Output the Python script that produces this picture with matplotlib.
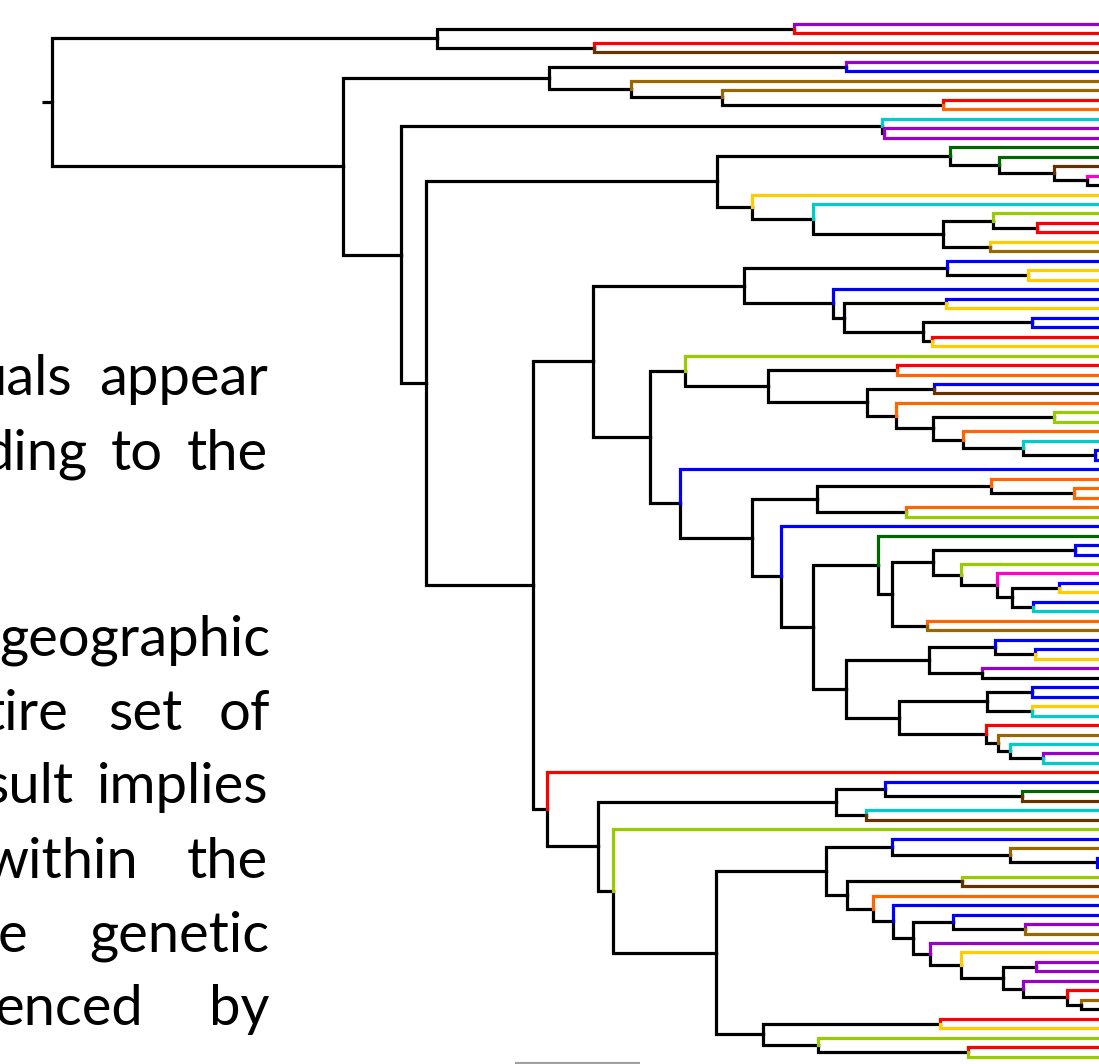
import matplotlib
matplotlib.use("Agg")
import matplotlib.pyplot as plt

# ---------------- data ----------------
COLORS = {"p": "#9900CC", "r": "#FF0000", "b": "#663300", "g": "#996600",
          "B": "#0000FF", "o": "#FF6600", "c": "#00CCCC", "G": "#006600",
          "m": "#FF00CC", "k": "#000000", "y": "#FFCC00", "l": "#99CC00"}

# colour of each leaf (top to bottom)
leaf_colors = ("p r r b p B g g r o c p p G G b m k y c "
               "l r r y g B y y B B y B B r y l r o B b "
               "o l l o c B B B o o o o l B G B B l m B "
               "y B c o g B B y p k B B y c r g c p c r "
               "B G b c b l B g B B l b o B B p g p y p "
               "p p r g k r y l r l").split()

# internal nodes: name -> (branching depth, children); ints are leaves
tree = {
    "root": (52, ["n437", "n343"]),
    "n437": (437, ["n794", "n594"]),
    "n794": (794, [0, 1]),
    "n594": (594, [2, 3]),
    "n343": (343, ["n549", "n401"]),
    "n549": (549, ["n846", "n631"]),
    "n846": (846, [4, 5]),
    "n631": (631, [6, "n722"]),
    "n722": (722, [7, "n943"]),
    "n943": (943, [8, 9]),
    "n401": (401, ["n882", "n426"]),
    "n882": (882, [10, "n884"]),
    "n884": (884, [11, 12]),
    "n426": (426, ["n717", "n533"]),
    "n717": (717, ["n950", "n752"]),
    "n950": (950, [13, "n999"]),
    "n999": (999, [14, "n1054"]),
    "n1054": (1054, [15, "n1087"]),
    "n1087": (1087, [16, 17]),
    "n752": (752, [18, "n813"]),
    "n813": (813, [19, "n943b"]),
    "n943b": (943, ["n993", "n990"]),
    "n993": (993, [20, "n1037"]),
    "n1037": (1037, [21, 22]),
    "n990": (990, [23, 24]),
    "n533": (533, ["n593", "n547"]),
    "n593": (593, ["n744", "n650"]),
    "n744": (744, ["n947", "n833"]),
    "n947": (947, [25, "n1028"]),
    "n1028": (1028, [26, 27]),
    "n833": (833, [28, "n844"]),
    "n844": (844, ["n946", "n923"]),
    "n946": (946, [29, 30]),
    "n923": (923, ["n1032", "n932"]),
    "n1032": (1032, [31, 32]),
    "n932": (932, [33, 34]),
    "n650": (650, ["n685", "n680"]),
    "n685": (685, [35, "n768"]),
    "n768": (768, ["n897", "n867"]),
    "n897": (897, [36, 37]),
    "n867": (867, ["n934", "n896"]),
    "n934": (934, [38, 39]),
    "n896": (896, [40, "n933"]),
    "n933": (933, ["n1054b", "n963"]),
    "n1054b": (1054, [41, 42]),
    "n963": (963, [43, "n1023"]),
    "n1023": (1023, [44, "n1095"]),
    "n1095": (1095, [45, 46]),
    "n680": (680, [47, "n752b"]),
    "n752b": (752, ["n817", "n781"]),
    "n817": (817, ["n991", "n906"]),
    "n991": (991, [48, "n1074"]),
    "n1074": (1074, [49, 50]),
    "n906": (906, [51, 52]),
    "n781": (781, [53, "n813b"]),
    "n813b": (813, ["n878", "n846b"]),
    "n878": (878, [54, "n892"]),
    "n892": (892, ["n933b", "n927"]),
    "n933b": (933, ["n1075", "n961"]),
    "n1075": (1075, [55, 56]),
    "n961": (961, [57, "n997"]),
    "n997": (997, [58, "n1012"]),
    "n1012": (1012, ["n1059", "n1033"]),
    "n1059": (1059, [59, 60]),
    "n1033": (1033, [61, 62]),
    "n927": (927, [63, 64]),
    "n846b": (846, ["n929", "n899"]),
    "n929": (929, ["n995", "n982"]),
    "n995": (995, [65, "n1035"]),
    "n1035": (1035, [66, 67]),
    "n982": (982, [68, 69]),
    "n899": (899, ["n987", "n986"]),
    "n987": (987, ["n1032b", "n1032c"]),
    "n1032b": (1032, [70, 71]),
    "n1032c": (1032, [72, 73]),
    "n986": (986, [74, "n998"]),
    "n998": (998, [75, "n1010"]),
    "n1010": (1010, [76, "n1043"]),
    "n1043": (1043, [77, 78]),
    "n547": (547, [79, "n598"]),
    "n598": (598, ["n836", "n613"]),
    "n836": (836, ["n885", "n866"]),
    "n885": (885, [80, "n1022"]),
    "n1022": (1022, [81, 82]),
    "n866": (866, [83, 84]),
    "n613": (613, [85, "n716"]),
    "n716": (716, ["n826", "n763"]),
    "n826": (826, ["n892b", "n847"]),
    "n892b": (892, [86, "n1010b"]),
    "n1010b": (1010, [87, "n1097"]),
    "n1097": (1097, [88, 89]),
    "n847": (847, ["n962", "n873"]),
    "n962": (962, [90, 91]),
    "n873": (873, [92, "n893"]),
    "n893": (893, [93, "n913"]),
    "n913": (913, ["n953", "n930"]),
    "n953": (953, [94, "n1025"]),
    "n1025": (1025, [95, 96]),
    "n930": (930, [97, "n961b"]),
    "n961b": (961, [98, "n1003"]),
    "n1003": (1003, ["n1036", "n1023b"]),
    "n1036": (1036, [99, 100]),
    "n1023b": (1023, [101, "n1067"]),
    "n1067": (1067, [102, "n1081"]),
    "n1081": (1081, [103, 104]),
    "n763": (763, ["n940", "n818"]),
    "n940": (940, [105, 106]),
    "n818": (818, [107, "n968"]),
    "n968": (968, [108, 109]),
}

# text fragments on the left (word, right edge, baseline)
text_words = [
    ("uals", 72, 395), ("appear", 268, 395),
    ("ding", 88, 470), ("to", 163, 470), ("the", 268, 470),
    ("geographic", 270, 655),
    ("tire", 68, 730), ("set", 182, 730), ("of", 270, 730),
    ("sult", 73, 803), ("implies", 269, 803),
    ("within", 138, 878), ("the", 268, 878),
    ("e", 27, 952), ("genetic", 269, 952),
    ("enced", 143, 1025), ("by", 269, 1025),
]

# ---------------- layout ----------------
W, H = 1099, 1064
LEAF_Y0, LEAF_STEP = 24.0, 9.474
TIP_X = 1160
LW = 2.3

fig = plt.figure(figsize=(W / 100, H / 100), dpi=100)
ax = fig.add_axes([0, 0, 1, 1])
ax.set_xlim(0, W)
ax.set_ylim(H, 0)
ax.axis("off")

ypos = {}


def node_y(n):
    if isinstance(n, int):
        return LEAF_Y0 + n * LEAF_STEP
    if n in ypos:
        return ypos[n]
    kids = tree[n][1]
    ys = [node_y(k) for k in kids]
    ypos[n] = (ys[0] + ys[-1]) / 2.0
    return ypos[n]


def draw(n):
    d, kids = tree[n]
    y = node_y(n)
    for k in kids:
        ky = node_y(k)
        if isinstance(k, int):
            kx, col, z = TIP_X, COLORS[leaf_colors[k]], 3
        else:
            kx, col, z = tree[k][0], "#000000", 2
            draw(k)
        ax.plot([d, d, kx], [y, ky, ky], color=col, lw=LW, zorder=z,
                solid_joinstyle="miter", solid_capstyle="projecting")


draw("root")
ry = node_y("root")
ax.plot([42, tree["root"][0]], [ry, ry], color="black", lw=LW,
        solid_capstyle="butt", zorder=2)

# scale bar fragment at the bottom
ax.plot([515, 640], [1063, 1063], color="#A0A0A0", lw=1.6, solid_capstyle="butt")

# text
FAMILY = ["Lato", "DejaVu Sans"]
probe = ax.text(0, 0, "genetic", fontsize=40, family=FAMILY)
fig.canvas.draw()
wpx = probe.get_window_extent().width
probe.remove()
fs = 40 * 180.0 / wpx

for word, xr, yb in text_words:
    ax.text(xr, yb, word, fontsize=fs, family=FAMILY, ha="right",
            va="baseline", color="black")

fig.savefig("out.png", dpi=100)
